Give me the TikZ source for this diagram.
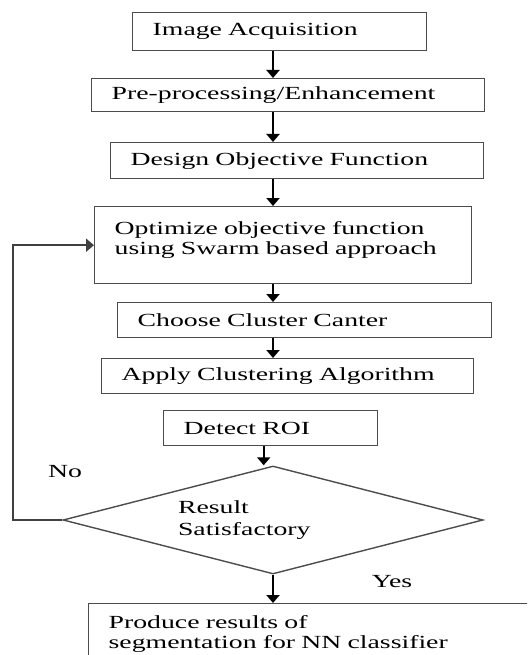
\documentclass[tikz,border=0pt]{standalone}
\usepackage{fontspec}
\setmainfont[FakeStretch=1.5]{Liberation Serif}
\usetikzlibrary{shapes.geometric,arrows.meta}

\begin{document}
\begin{tikzpicture}[x=1pt,y=-1pt,
  box/.style={draw=black!70,line width=1.4pt,rectangle,anchor=north west,
    inner xsep=20pt,inner ysep=2pt,align=left,
    font=\fontsize{18.5}{20}\selectfont},
  decision/.style={draw=black!70,line width=1.4pt,diamond,aspect=3.9,inner sep=0pt,
    align=left,font=\fontsize{18.5}{22}\selectfont},
  label/.style={font=\fontsize{18.5}{20}\selectfont},
  arrow/.style={line width=2pt,-{Triangle[length=8pt,width=13pt]}},
  loopline/.style={draw=black!75,line width=1.8pt}]
\clip (0,0) rectangle (527,655);

% Draw processing steps
\node[box,text width=254pt,minimum height=38pt] (acq) at (132,12) {Image Acquisition};
\node[box,text width=353pt,minimum height=33pt] (pre) at (91,78) {Pre-processing/Enhancement};
\node[box,text width=333pt,minimum height=36pt] (obj) at (110,142) {Design Objective Function};
\node[box,text width=337pt,minimum height=77pt] (opt) at (94,206) {Optimize objective function\\using Swarm based approach\\[-6pt]\mbox{}};
\node[box,text width=334pt,minimum height=35pt] (ctr) at (117,302) {Choose Cluster Canter};
\node[box,text width=332pt,minimum height=35pt] (clu) at (101,358) {Apply Clustering Algorithm};
\node[box,text width=174pt,minimum height=35pt] (roi) at (163,410) {Detect ROI};

% Draw decision
\node[decision,minimum width=420pt,minimum height=108pt,text width=190pt] (dec) at (273,520) {Result\\Satisfactory};

% Draw output
\node[box,text width=440pt,inner ysep=12pt] (res) at (88,603) {Produce results of\\segmentation for NN classifier\\[20pt]\mbox{}};

% Draw connectors
\draw[arrow] (acq.south -| dec.north) -- (pre.north -| dec.north);
\draw[arrow] (pre.south -| dec.north) -- (obj.north -| dec.north);
\draw[arrow] (obj.south -| dec.north) -- (opt.north -| dec.north);
\draw[arrow] (opt.south -| dec.north) -- (ctr.north -| dec.north);
\draw[arrow] (ctr.south -| dec.north) -- (clu.north -| dec.north);
\draw[arrow] ([xshift=-7pt]roi.south) -- ([xshift=-7pt]roi.south |- dec.north);
\draw[arrow] (dec.south) -- (dec.south |- res.north);

% Draw feedback loop
\draw[loopline,arrow] (dec.west) -- ++(-49,0) |- (opt.west);

% Add branch labels
\node[label] (no) at (65,472) {No};
\node[label] (yes) at (392,582) {Yes};

\end{tikzpicture}
\end{document}
